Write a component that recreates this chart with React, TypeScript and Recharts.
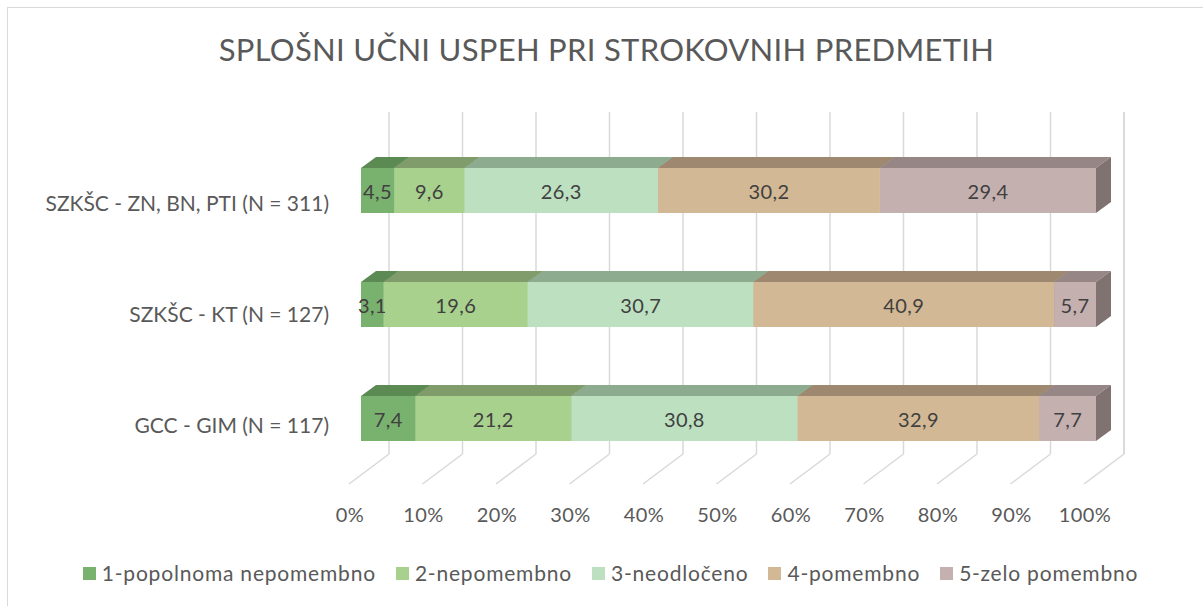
import React from 'react';
import { BarChart, Bar, XAxis, YAxis, CartesianGrid, LabelList } from 'recharts';

const categories = ['SZKŠC - ZN, BN, PTI (N = 311)', 'SZKŠC - KT (N = 127)', 'GCC - GIM (N = 117)'];
const seriesNames = ['1-popolnoma nepomembno', '2-nepomembno', '3-neodločeno', '4-pomembno', '5-zelo pomembno'];
const s1 = [4.5, 3.1, 7.4];
const s2 = [9.6, 19.6, 21.2];
const s3 = [26.3, 30.7, 30.8];
const s4 = [30.2, 40.9, 32.9];
const s5 = [29.4, 5.7, 7.7];
const xTicks = [0, 10, 20, 30, 40, 50, 60, 70, 80, 90, 100];
const title = 'SPLOŠNI UČNI USPEH PRI STROKOVNIH PREDMETIH';

const seriesValues = [s1, s2, s3, s4, s5];
const keys = ['s1', 's2', 's3', 's4', 's5'];
const frontColors = ['#79b16e', '#a9d18e', '#bde0c0', '#d2b894', '#c5b0b0'];
const topColors = ['#5c8a53', '#7f9c6a', '#8dab8f', '#9e8970', '#968686'];
const sideColors = ['#4f7747', '#6d875b', '#7a947c', '#887660', '#7f7270'];

const data = categories.map((name, i) => {
  const row: any = { name };
  keys.forEach((k, j) => (row[k] = seriesValues[j][i]));
  return row;
});

const FONT = 'Lato, "Open Sans", sans-serif';
// 3D projection offsets (front face relative to back plane)
const DX = -28;
const DY = 21;
const DEPTH_X = 15;
const DEPTH_Y = 11;

const makeShape = (idx: number) => (props: any) => {
  const { x, y, width, height } = props;
  if (width == null || height == null) return null;
  const fx = x + DX;
  const fy = y + DY;
  const top = `${fx},${fy} ${fx + DEPTH_X},${fy - DEPTH_Y} ${fx + width + DEPTH_X},${fy - DEPTH_Y} ${fx + width},${fy}`;
  const side = `${fx + width},${fy} ${fx + width + DEPTH_X},${fy - DEPTH_Y} ${fx + width + DEPTH_X},${fy + height - DEPTH_Y} ${fx + width},${fy + height}`;
  return (
    <g>
      <polygon points={top} fill={topColors[idx]} />
      <polygon points={side} fill={sideColors[idx]} />
      <rect x={fx} y={fy} width={width} height={height} fill={frontColors[idx]} />
    </g>
  );
};

const renderLabel = (props: any) => {
  const { x, y, width, height, value } = props;
  return (
    <text
      x={x + DX + width / 2}
      y={y + DY + height / 2}
      textAnchor="middle"
      dominantBaseline="central"
      fill="#404040"
      fontSize={20}
      fontFamily={FONT}
      letterSpacing={0.4}
    >
      {String(value).replace('.', ',')}
    </text>
  );
};

const XTick = (props: any) => {
  const { x, y, payload } = props;
  return (
    <g>
      <line x1={x} y1={y} x2={x - 40} y2={y + 30} stroke="#d9d9d9" strokeWidth={1.5} />
      <text x={x - 39} y={y + 67.5} textAnchor="middle" fill="#595959" fontSize={20} fontFamily={FONT} letterSpacing={0.4}>
        {payload.value}%
      </text>
    </g>
  );
};

const YTick = (props: any) => {
  const { x, y, payload, index } = props;
  return (
    <text x={x - 60} y={y + 41.7 - 2.85 * index} textAnchor="end" fill="#595959" fontSize={21} fontFamily={FONT}>
      {payload.value}
    </text>
  );
};

export default function App() {
  return (
    <div style={{ position: 'absolute', left: 0, top: 0, width: 1203, height: 606, background: '#fff', overflow: 'hidden' }}>
      <svg width={1203} height={606} style={{ position: 'absolute', left: 0, top: 0 }}>
        <line x1={7.5} y1={7} x2={7.5} y2={606} stroke="#d9d9d9" strokeWidth={1} />
        <line x1={7} y1={7.5} x2={1203} y2={7.5} stroke="#d9d9d9" strokeWidth={1} />
        <text x={606.5} y={61} textAnchor="middle" fill="#595959" fontSize={31} fontWeight={400} fontFamily={FONT} letterSpacing={0.3}>
          {title}
        </text>
      </svg>
      <div style={{ position: 'absolute', left: 0, top: 0 }}>
        <BarChart
          width={1203}
          height={606}
          data={data}
          layout="vertical"
          margin={{ top: 112, right: 79, bottom: 72, left: 89 }}
          barSize={45}
        >
          <CartesianGrid horizontal={false} vertical={true} stroke="#d9d9d9" strokeWidth={1.5} />
          <XAxis
            type="number"
            domain={[0, 100]}
            ticks={xTicks}
            axisLine={false}
            tickLine={false}
            tickSize={0}
            tickMargin={0}
            height={80}
            tick={<XTick />}
            interval={0}
          />
          <YAxis
            type="category"
            dataKey="name"
            axisLine={false}
            tickLine={false}
            tickSize={0}
            tickMargin={0}
            width={300}
            tick={<YTick />}
            interval={0}
          />
          {keys.map((k, i) => (
            <Bar key={k} dataKey={k} stackId="a" isAnimationActive={false} shape={makeShape(i)} name={seriesNames[i]}>
              <LabelList dataKey={k} content={renderLabel} />
            </Bar>
          ))}
        </BarChart>
      </div>
      <div
        style={{
          position: 'absolute',
          left: 0,
          top: 561,
          width: 1203,
          display: 'flex',
          justifyContent: 'center',
          paddingLeft: 18,
          boxSizing: 'border-box',
          fontFamily: FONT,
          fontSize: 21,
          letterSpacing: '0.8px',
          color: '#595959',
          lineHeight: '24px',
        }}
      >
        {seriesNames.map((n, i) => (
          <div key={n} style={{ display: 'flex', alignItems: 'center', marginRight: i < seriesNames.length - 1 ? 20 : 0 }}>
            <span style={{ display: 'inline-block', width: 13, height: 13, background: frontColors[i], marginRight: 6 }} />
            <span>{n}</span>
          </div>
        ))}
      </div>
    </div>
  );
}
